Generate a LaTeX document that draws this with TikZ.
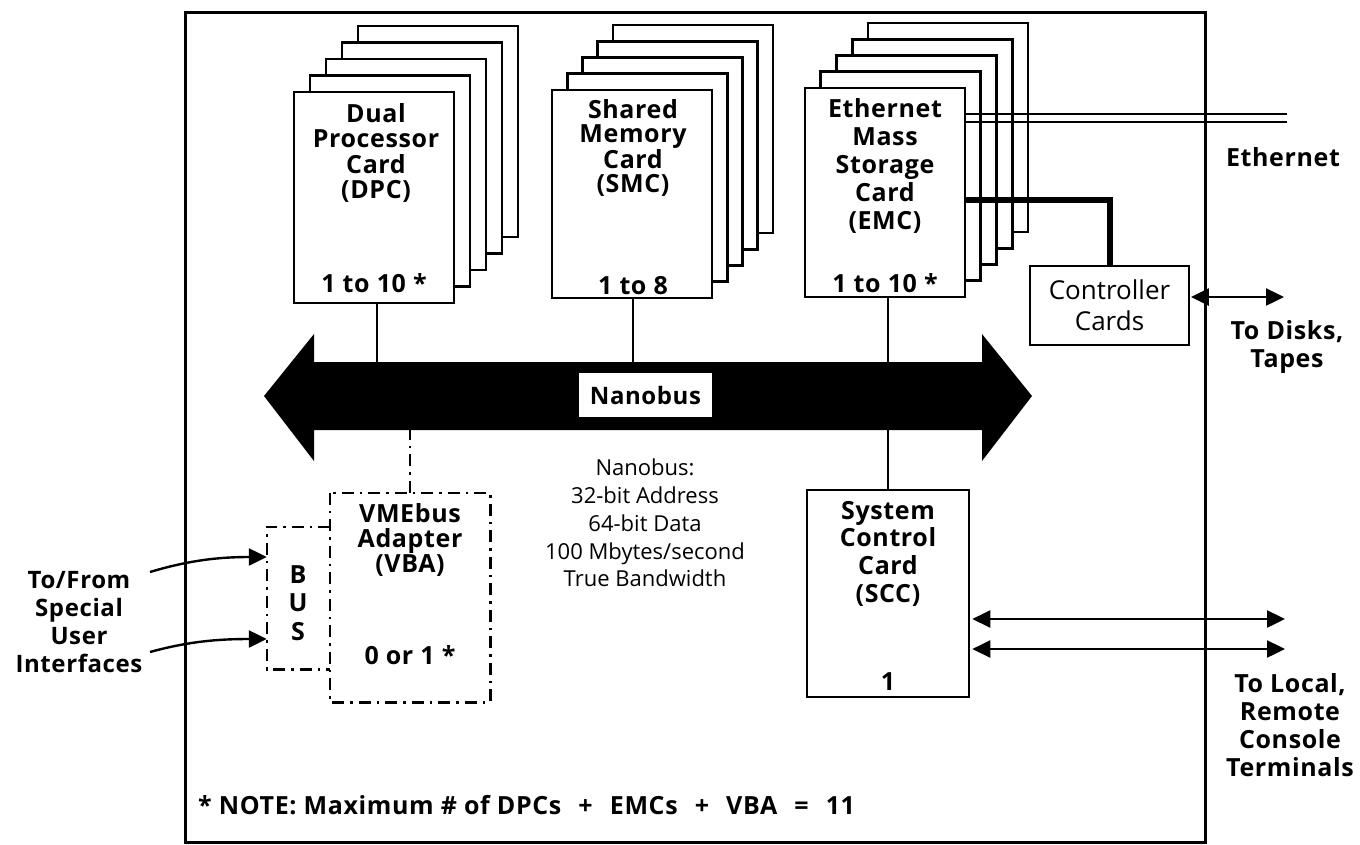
\documentclass[tikz,border=0pt]{standalone}
\usepackage{fontspec}
\setmainfont{Open Sans}[BoldFeatures={LetterSpace=2.5}]
\usetikzlibrary{arrows.meta,calc}

\begin{document}
\begin{tikzpicture}[x=1pt,y=-1pt,
  frame/.style={line width=3pt},
  card/.style={draw, fill=white, line width=2.6pt, inner sep=0pt},
  link/.style={line width=2pt},
  dashdot/.style={line width=2.6pt, dash pattern=on 12pt off 6pt on 2.5pt off 6pt},
  boldtxt/.style={font=\bfseries\fontsize{25}{25}\selectfont, align=center, inner sep=0pt},
  regtxt/.style={font=\fontsize{22}{27.8}\selectfont, align=center, inner sep=0pt},
  biarrow/.style={line width=2.4pt, {Triangle[length=18pt,width=17pt]}-{Triangle[length=18pt,width=17pt]}},
  uiarrow/.style={line width=2.4pt, -{Triangle[length=18pt,width=17pt]}},
  thickline/.style={line width=6pt}]
\useasboundingbox (0,0) rectangle (1360,844);

% cabinet outline
\draw[frame] (185,12) rectangle (1205,842);

% --- card stacks (four cards behind each front card) ---
\foreach \i in {4,3,2,1}{
  \draw[card] ($(294,92)+(16*\i,-16.5*\i)$) rectangle ++(160,211);
  \draw[card] ($(552,90)+(15.25*\i,-16.25*\i)$) rectangle ++(160,208);
  \draw[card] ($(805,88)+(15.75*\i,-16.25*\i)$) rectangle ++(160,209);
}
\node[card, minimum width=160pt, minimum height=211pt] (dpc) at (374,197.5) {};
\node[card, minimum width=160pt, minimum height=208pt] (smc) at (632,194) {};
\node[card, minimum width=160pt, minimum height=209pt] (emc) at (885,192.5) {};

\node[boldtxt, font=\bfseries\fontsize{25}{25.5}\selectfont] (dpct) at (376,153) {Dual\\Processor\\Card\\(DPC)};
\node[boldtxt] (dpcn) at (374,283) {1 to 10 *};
\node[boldtxt, font=\bfseries\fontsize{25}{24}\selectfont] (smct) at (633,148) {Shared\\Memory\\Card\\(SMC)};
\node[boldtxt] (smcn) at (633,286) {1 to 8};
\node[boldtxt, font=\bfseries\fontsize{25}{28}\selectfont] (emct) at (885,166) {Ethernet\\Mass\\Storage\\Card\\(EMC)};
\node[boldtxt] (emcn) at (885,283) {1 to 10 *};

% --- Ethernet taps and controller link ---
\coordinate (eth1) at (1287,114);
\coordinate (eth2) at (1287,122);
\draw[link, line width=2.4pt] (emc.east |- eth1) -- (eth1);
\draw[link, line width=2.4pt] (emc.east |- eth2) -- (eth2);
\node[boldtxt] (ethl) at (1283,157) {Ethernet};

\node[draw, line width=1.8pt, minimum width=159pt, minimum height=79pt, inner sep=0pt,
      font=\fontsize{26}{31}\selectfont, align=center] (ctrl) at (1109.5,305.5) {Controller\\Cards};
\coordinate (tk) at (1000,200);
\draw[thickline] (emc.east |- tk) -| (ctrl.north);

\coordinate (disks) at (1284,297);
\draw[biarrow] ([xshift=1pt]ctrl.east |- disks) -- (disks);
\node[boldtxt, font=\bfseries\fontsize{25}{28}\selectfont] (diskl) at (1287,347) {To Disks,\\Tapes};

% --- Nanobus ---
\fill (264,396) -- (314,334) -- (314,362) -- (982,362) -- (982,334) -- (1032,396)
      -- (982,461) -- (982,430) -- (314,430) -- (314,461) -- cycle;
\node[inner sep=0pt, minimum width=668pt, minimum height=68pt] (bus) at (648,396) {};
\node[fill=white, minimum width=133pt, minimum height=44pt, inner sep=0pt,
      font=\bfseries\fontsize{24}{25}\selectfont] (busl) at (645.5,395) {Nanobus};

\draw[link] ([xshift=3pt]dpc.south) -- ([xshift=3pt]dpc.south |- bus.north);
\draw[link] ([xshift=1pt]smc.south) -- ([xshift=1pt]smc.south |- bus.north);
\draw[link] ([xshift=3pt]emc.south) -- ([xshift=3pt]emc.south |- bus.north);

\node[regtxt] (busspec) at (645,523) {Nanobus:\\32-bit Address\\64-bit Data\\100 Mbytes/second\\True Bandwidth};

% --- System Control Card ---
\node[card, minimum width=162pt, minimum height=207pt] (scc) at (888,593.5) {};
\node[boldtxt, font=\bfseries\fontsize{25}{27.7}\selectfont] (scct) at (888,553.5) {System\\Control\\Card\\(SCC)};
\node[boldtxt] (sccn) at (888,682) {1};
\draw[link] (scc.north) -- (scc.north |- bus.south);

\coordinate (term1) at (1285,619);
\coordinate (term2) at (1285,649);
\draw[biarrow] ([xshift=2pt]scc.east |- term1) -- (term1);
\draw[biarrow] ([xshift=2pt]scc.east |- term2) -- (term2);
\node[boldtxt, font=\bfseries\fontsize{25}{28}\selectfont] (terml) at (1290,725.5) {To Local,\\Remote\\Console\\Terminals};

% --- VMEbus adapter and its bus interface ---
\node[minimum width=160pt, minimum height=209pt, inner sep=0pt] (vba) at (410,597.5) {};
\draw[dashdot] (vba.north west) rectangle (vba.south east);
\node[boldtxt] (vbat) at (410,540) {VMEbus\\Adapter\\(VBA)};
\node[boldtxt] (vban) at (410,655) {0 or 1 *};
\draw[dashdot] (vba.north) -- (vba.north |- bus.south);

\node[minimum width=63pt, minimum height=142pt, inner sep=0pt] (busif) at (298.5,598) {};
\draw[dashdot] (busif.north east) -- (busif.north west) -- (busif.south west) -- (busif.south east);
\node[boldtxt, font=\bfseries\fontsize{25}{28.5}\selectfont] (busift) at (298,603) {B\\U\\S};

\coordinate (ui1) at (150,572);
\coordinate (ui2) at (150,652);
\draw[uiarrow] (ui1) .. controls (190,560) and (220,557) .. (busif.west |- 0,557);
\draw[uiarrow] (ui2) .. controls (190,641) and (220,639) .. (busif.west |- 0,639);
\node[boldtxt, font=\bfseries\fontsize{24}{27.7}\selectfont] (uil) at (79,622) {To/From\\Special\\User\\Interfaces};

% --- footnote ---
\node[boldtxt, anchor=west] (note) at (198,805)
  {* NOTE: Maximum \# of DPCs\hspace{10pt} + \hspace{10pt}EMCs\hspace{10pt} + \hspace{10pt}VBA\hspace{10pt} = \hspace{10pt}11};
\end{tikzpicture}
\end{document}
